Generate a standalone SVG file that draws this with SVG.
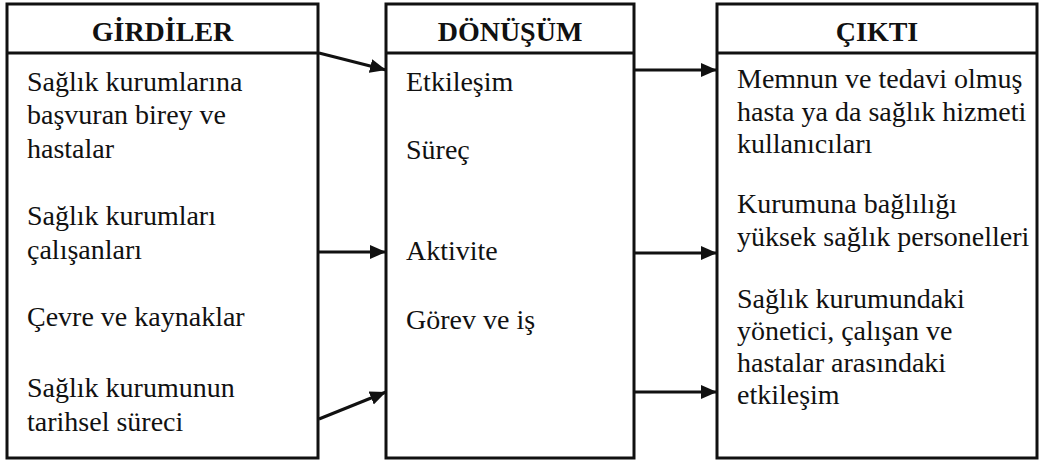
<svg xmlns="http://www.w3.org/2000/svg" width="1044" height="464" viewBox="0 0 1044 464">
  <style>
    .box { fill: #ffffff; stroke: #111111; stroke-width: 3; }
    .sep { stroke: #111111; stroke-width: 3; }
    .head { font-size: 28px; font-weight: bold; fill: #111111; text-anchor: middle; }
    .txt { font-size: 28px; fill: #111111; }
    .conn { stroke: #111111; stroke-width: 3; fill: none; marker-end: url(#arrow); }
  </style>
  <defs>
    <marker id="arrow" markerUnits="userSpaceOnUse" markerWidth="18" markerHeight="16" refX="16" refY="8" orient="auto">
      <path d="M0,1 L16,8 L0,15 Z" fill="#111111"/>
    </marker>
  </defs>
  <rect width="1044" height="464" fill="#ffffff"/>

  <g font-family="Liberation Serif, Tinos, Times New Roman, Noto Serif, DejaVu Serif, serif">
  <!-- Inputs column -->
  <g id="girdiler">
    <rect class="box" x="7" y="4" width="311" height="454"/>
    <line class="sep" x1="7" y1="53" x2="318" y2="53"/>
    <text class="head" x="162.5" y="41">GİRDİLER</text>
    <text class="txt" x="27" y="91">Sağlık kurumlarına</text>
    <text class="txt" x="27" y="124">başvuran birey ve</text>
    <text class="txt" x="27" y="158">hastalar</text>
    <text class="txt" x="27" y="225">Sağlık kurumları</text>
    <text class="txt" x="27" y="259">çalışanları</text>
    <text class="txt" x="27" y="326">Çevre ve kaynaklar</text>
    <text class="txt" x="27" y="397">Sağlık kurumunun</text>
    <text class="txt" x="27" y="431">tarihsel süreci</text>
  </g>

  <!-- Transformation column -->
  <g id="donusum">
    <rect class="box" x="386" y="4" width="248" height="454"/>
    <line class="sep" x1="386" y1="53" x2="634" y2="53"/>
    <text class="head" x="510" y="41">DÖNÜŞÜM</text>
    <text class="txt" x="406" y="91">Etkileşim</text>
    <text class="txt" x="406" y="159">Süreç</text>
    <text class="txt" x="406" y="260">Aktivite</text>
    <text class="txt" x="406" y="329">Görev ve iş</text>
  </g>

  <!-- Output column -->
  <g id="cikti">
    <rect class="box" x="717" y="4" width="320" height="454"/>
    <line class="sep" x1="717" y1="53" x2="1037" y2="53"/>
    <text class="head" x="877" y="41">ÇIKTI</text>
    <text class="txt" x="737" y="88">Memnun ve tedavi olmuş</text>
    <text class="txt" x="737" y="121">hasta ya da sağlık hizmeti</text>
    <text class="txt" x="737" y="153">kullanıcıları</text>
    <text class="txt" x="737" y="213">Kurumuna bağlılığı</text>
    <text class="txt" x="737" y="246">yüksek sağlık personelleri</text>
    <text class="txt" x="737" y="308">Sağlık kurumundaki</text>
    <text class="txt" x="737" y="340">yönetici, çalışan ve</text>
    <text class="txt" x="737" y="372">hastalar arasındaki</text>
    <text class="txt" x="737" y="404">etkileşim</text>
  </g>
  </g>

  <!-- Connectors -->
  <g id="connectors">
    <line class="conn" x1="319" y1="53" x2="386" y2="70"/>
    <line class="conn" x1="319" y1="252" x2="386" y2="252"/>
    <line class="conn" x1="319" y1="419" x2="386" y2="392"/>
    <line class="conn" x1="635" y1="70" x2="717" y2="70"/>
    <line class="conn" x1="635" y1="253" x2="717" y2="253"/>
    <line class="conn" x1="635" y1="392" x2="717" y2="392"/>
  </g>
</svg>
